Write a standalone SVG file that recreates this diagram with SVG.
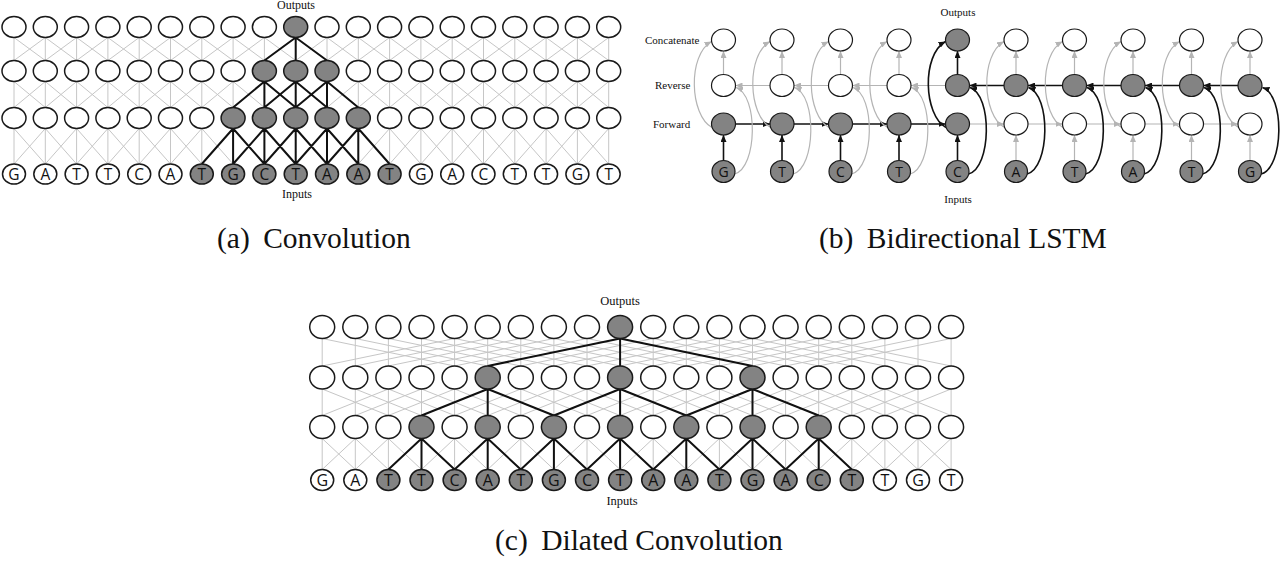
<svg xmlns="http://www.w3.org/2000/svg" width="1280" height="564" viewBox="0 0 1280 564">
<style>
.w{fill:#fff;stroke:#1a1a1a;stroke-width:1.5}
.s{fill:#838383;stroke:#1a1a1a;stroke-width:1.5}
#pb .w,#pb .s{stroke-width:1.2}
.l{font-family:"Open Sans","DejaVu Sans",sans-serif;font-size:15.5px;text-anchor:middle;fill:#111}
#pb .l{font-size:14px}
#pc .l{font-size:16px}
.t{font-family:"Liberation Serif","Times New Roman",serif;fill:#111}
.sm{font-size:12px}
.sb{font-size:11px}
.c{text-anchor:middle}
.cap{font-size:29.5px}
.g{fill:none;stroke:#c6c6c6;stroke-width:1;stroke-linejoin:round}
.k{fill:none;stroke:#111;stroke-width:2;stroke-linejoin:round}
.ag{fill:none;stroke:#b4b4b4;stroke-width:1.2;marker-end:url(#mg)}
.ak{fill:none;stroke:#111;stroke-width:1.6;marker-end:url(#mk)}
</style>
<defs>
<marker id="mk" viewBox="0 0 7 6" refX="7" refY="3" markerWidth="7" markerHeight="6" markerUnits="userSpaceOnUse" orient="auto"><path d="M0,0L7,3L0,6z" fill="#111"/></marker>
<marker id="mg" viewBox="0 0 7 6" refX="7" refY="3" markerWidth="7" markerHeight="6" markerUnits="userSpaceOnUse" orient="auto"><path d="M0,0L7,3L0,6z" fill="#b4b4b4"/></marker>
</defs>
<rect width="1280" height="564" fill="#fff"/>

<g id="connectors">
<path class="g" d="M14,37.5L45.3,60.5L76.6,37.5L107.9,60.5L139.2,37.5L170.5,60.5L201.8,37.5L233.1,60.5L264.4,37.5L295.7,60.5L327,37.5L358.3,60.5L389.6,37.5L420.9,60.5L452.2,37.5L483.5,60.5L514.8,37.5L546.1,60.5L577.4,37.5L608.7,60.5M14,60.5L45.3,37.5L76.6,60.5L107.9,37.5L139.2,60.5L170.5,37.5L201.8,60.5L233.1,37.5L264.4,60.5L295.7,37.5L327,60.5L358.3,37.5L389.6,60.5L420.9,37.5L452.2,60.5L483.5,37.5L514.8,60.5L546.1,37.5L577.4,60.5L608.7,37.5M14,37.5V60.5M45.3,37.5V60.5M76.6,37.5V60.5M107.9,37.5V60.5M139.2,37.5V60.5M170.5,37.5V60.5M201.8,37.5V60.5M233.1,37.5V60.5M264.4,37.5V60.5M295.7,37.5V60.5M327,37.5V60.5M358.3,37.5V60.5M389.6,37.5V60.5M420.9,37.5V60.5M452.2,37.5V60.5M483.5,37.5V60.5M514.8,37.5V60.5M546.1,37.5V60.5M577.4,37.5V60.5M608.7,37.5V60.5"/>
<path class="g" d="M14,81.5L45.3,107.5L76.6,81.5L107.9,107.5L139.2,81.5L170.5,107.5L201.8,81.5L233.1,107.5L264.4,81.5L295.7,107.5L327,81.5L358.3,107.5L389.6,81.5L420.9,107.5L452.2,81.5L483.5,107.5L514.8,81.5L546.1,107.5L577.4,81.5L608.7,107.5M14,107.5L45.3,81.5L76.6,107.5L107.9,81.5L139.2,107.5L170.5,81.5L201.8,107.5L233.1,81.5L264.4,107.5L295.7,81.5L327,107.5L358.3,81.5L389.6,107.5L420.9,81.5L452.2,107.5L483.5,81.5L514.8,107.5L546.1,81.5L577.4,107.5L608.7,81.5M14,81.5V107.5M45.3,81.5V107.5M76.6,81.5V107.5M107.9,81.5V107.5M139.2,81.5V107.5M170.5,81.5V107.5M201.8,81.5V107.5M233.1,81.5V107.5M264.4,81.5V107.5M295.7,81.5V107.5M327,81.5V107.5M358.3,81.5V107.5M389.6,81.5V107.5M420.9,81.5V107.5M452.2,81.5V107.5M483.5,81.5V107.5M514.8,81.5V107.5M546.1,81.5V107.5M577.4,81.5V107.5M608.7,81.5V107.5"/>
<path class="g" d="M14,128.5L45.3,164L76.6,128.5L107.9,164L139.2,128.5L170.5,164L201.8,128.5L233.1,164L264.4,128.5L295.7,164L327,128.5L358.3,164L389.6,128.5L420.9,164L452.2,128.5L483.5,164L514.8,128.5L546.1,164L577.4,128.5L608.7,164M14,164L45.3,128.5L76.6,164L107.9,128.5L139.2,164L170.5,128.5L201.8,164L233.1,128.5L264.4,164L295.7,128.5L327,164L358.3,128.5L389.6,164L420.9,128.5L452.2,164L483.5,128.5L514.8,164L546.1,128.5L577.4,164L608.7,128.5M14,128.5V164M45.3,128.5V164M76.6,128.5V164M107.9,128.5V164M139.2,128.5V164M170.5,128.5V164M201.8,128.5V164M233.1,128.5V164M264.4,128.5V164M295.7,128.5V164M327,128.5V164M358.3,128.5V164M389.6,128.5V164M420.9,128.5V164M452.2,128.5V164M483.5,128.5V164M514.8,128.5V164M546.1,128.5V164M577.4,128.5V164M608.7,128.5V164"/>
<path class="k" d="M264.4,60.5L295.7,37.5L327,60.5M295.7,37.5V60.5"/>
<path class="k" d="M233.1,107.5L264.4,81.5L295.7,107.5M264.4,81.5V107.5M264.4,107.5L295.7,81.5L327,107.5M295.7,81.5V107.5M295.7,107.5L327,81.5L358.3,107.5M327,81.5V107.5"/>
<path class="k" d="M201.8,164L233.1,128.5L264.4,164M233.1,128.5V164M233.1,164L264.4,128.5L295.7,164M264.4,128.5V164M264.4,164L295.7,128.5L327,164M295.7,128.5V164M295.7,164L327,128.5L358.3,164M327,128.5V164M327,164L358.3,128.5L389.6,164M358.3,128.5V164"/>

<path class="g" d="M322.2,338.5L454.6,366L587,338.5L719.4,366L851.8,338.5M322.2,366L454.6,338.5L587,366L719.4,338.5L851.8,366M355.3,338.5L487.7,366L620.1,338.5L752.5,366L884.9,338.5M355.3,366L487.7,338.5L620.1,366L752.5,338.5L884.9,366M388.4,338.5L520.8,366L653.2,338.5L785.6,366L918,338.5M388.4,366L520.8,338.5L653.2,366L785.6,338.5L918,366M421.5,338.5L553.9,366L686.3,338.5L818.7,366L951.1,338.5M421.5,366L553.9,338.5L686.3,366L818.7,338.5L951.1,366M322.2,338.5V366M355.3,338.5V366M388.4,338.5V366M421.5,338.5V366M454.6,338.5V366M487.7,338.5V366M520.8,338.5V366M553.9,338.5V366M587,338.5V366M620.1,338.5V366M653.2,338.5V366M686.3,338.5V366M719.4,338.5V366M752.5,338.5V366M785.6,338.5V366M818.7,338.5V366M851.8,338.5V366M884.9,338.5V366M918,338.5V366M951.1,338.5V366"/>
<path class="g" d="M322.2,389L388.4,415.5L454.6,389L520.8,415.5L587,389L653.2,415.5L719.4,389L785.6,415.5L851.8,389L918,415.5M322.2,415.5L388.4,389L454.6,415.5L520.8,389L587,415.5L653.2,389L719.4,415.5L785.6,389L851.8,415.5L918,389M355.3,389L421.5,415.5L487.7,389L553.9,415.5L620.1,389L686.3,415.5L752.5,389L818.7,415.5L884.9,389L951.1,415.5M355.3,415.5L421.5,389L487.7,415.5L553.9,389L620.1,415.5L686.3,389L752.5,415.5L818.7,389L884.9,415.5L951.1,389M322.2,389V415.5M355.3,389V415.5M388.4,389V415.5M421.5,389V415.5M454.6,389V415.5M487.7,389V415.5M520.8,389V415.5M553.9,389V415.5M587,389V415.5M620.1,389V415.5M653.2,389V415.5M686.3,389V415.5M719.4,389V415.5M752.5,389V415.5M785.6,389V415.5M818.7,389V415.5M851.8,389V415.5M884.9,389V415.5M918,389V415.5M951.1,389V415.5"/>
<path class="g" d="M322.2,438.5L355.3,469.5L388.4,438.5L421.5,469.5L454.6,438.5L487.7,469.5L520.8,438.5L553.9,469.5L587,438.5L620.1,469.5L653.2,438.5L686.3,469.5L719.4,438.5L752.5,469.5L785.6,438.5L818.7,469.5L851.8,438.5L884.9,469.5L918,438.5L951.1,469.5M322.2,469.5L355.3,438.5L388.4,469.5L421.5,438.5L454.6,469.5L487.7,438.5L520.8,469.5L553.9,438.5L587,469.5L620.1,438.5L653.2,469.5L686.3,438.5L719.4,469.5L752.5,438.5L785.6,469.5L818.7,438.5L851.8,469.5L884.9,438.5L918,469.5L951.1,438.5M322.2,438.5V469.5M355.3,438.5V469.5M388.4,438.5V469.5M421.5,438.5V469.5M454.6,438.5V469.5M487.7,438.5V469.5M520.8,438.5V469.5M553.9,438.5V469.5M587,438.5V469.5M620.1,438.5V469.5M653.2,438.5V469.5M686.3,438.5V469.5M719.4,438.5V469.5M752.5,438.5V469.5M785.6,438.5V469.5M818.7,438.5V469.5M851.8,438.5V469.5M884.9,438.5V469.5M918,438.5V469.5M951.1,438.5V469.5"/>
<path class="k" d="M487.7,366L620.1,338.5L752.5,366M620.1,338.5V366"/>
<path class="k" d="M421.5,415.5L487.7,389L553.9,415.5M487.7,389V415.5M553.9,415.5L620.1,389L686.3,415.5M620.1,389V415.5M686.3,415.5L752.5,389L818.7,415.5M752.5,389V415.5"/>
<path class="k" d="M388.4,469.5L421.5,438.5L454.6,469.5L487.7,438.5L520.8,469.5L553.9,438.5L587,469.5L620.1,438.5L653.2,469.5L686.3,438.5L719.4,469.5L752.5,438.5L785.6,469.5L818.7,438.5L851.8,469.5M421.5,438.5V469.5M487.7,438.5V469.5M553.9,438.5V469.5M620.1,438.5V469.5M686.3,438.5V469.5M752.5,438.5V469.5M818.7,438.5V469.5"/>

<path class="ak" d="M735.5,124H770"/>
<path class="ak" d="M794,124H828.5"/>
<path class="ak" d="M852.5,124H887"/>
<path class="ak" d="M911,124H945.5"/>
<path class="ag" d="M969.5,124H1004"/>
<path class="ag" d="M1028,124H1062.5"/>
<path class="ag" d="M1086.5,124H1121"/>
<path class="ag" d="M1145,124H1179.5"/>
<path class="ag" d="M1203.5,124H1238"/>
<path class="ak" d="M1238,85.5H1203.5"/>
<path class="ak" d="M1179.5,85.5H1145"/>
<path class="ak" d="M1121,85.5H1086.5"/>
<path class="ak" d="M1062.5,85.5H1028"/>
<path class="ak" d="M1004,85.5H969.5"/>
<path class="ag" d="M945.5,85.5H911"/>
<path class="ag" d="M887,85.5H852.5"/>
<path class="ag" d="M828.5,85.5H794"/>
<path class="ag" d="M770,85.5H735.5"/>
<path class="ak" d="M723.5,160.5V135"/>
<path class="ak" d="M782,160.5V135"/>
<path class="ak" d="M840.5,160.5V135"/>
<path class="ak" d="M899,160.5V135"/>
<path class="ak" d="M957.5,160.5V135"/>
<path class="ag" d="M1016,160.5V135"/>
<path class="ag" d="M1074.5,160.5V135"/>
<path class="ag" d="M1133,160.5V135"/>
<path class="ag" d="M1191.5,160.5V135"/>
<path class="ag" d="M1250,160.5V135"/>
<path class="ag" d="M723.5,74.5V51"/>
<path class="ag" d="M782,74.5V51"/>
<path class="ag" d="M840.5,74.5V51"/>
<path class="ag" d="M899,74.5V51"/>
<path class="ak" d="M957.5,74.5V51"/>
<path class="ag" d="M1016,74.5V51"/>
<path class="ag" d="M1074.5,74.5V51"/>
<path class="ag" d="M1133,74.5V51"/>
<path class="ag" d="M1191.5,74.5V51"/>
<path class="ag" d="M1250,74.5V51"/>
<path class="ag" d="M712,127.5C689.5,115 687.5,55 711.5,41.5"/>
<path class="ag" d="M770.5,127.5C748,115 746,55 770,41.5"/>
<path class="ag" d="M829,127.5C806.5,115 804.5,55 828.5,41.5"/>
<path class="ag" d="M887.5,127.5C865,115 863,55 887,41.5"/>
<path class="ak" d="M946,127.5C923.5,115 921.5,55 945.5,41.5"/>
<path class="ag" d="M1004.5,127.5C982,115 980,55 1004,41.5"/>
<path class="ag" d="M1063,127.5C1040.5,115 1038.5,55 1062.5,41.5"/>
<path class="ag" d="M1121.5,127.5C1099,115 1097,55 1121,41.5"/>
<path class="ag" d="M1180,127.5C1157.5,115 1155.5,55 1179.5,41.5"/>
<path class="ag" d="M1238.5,127.5C1216,115 1214,55 1238,41.5"/>
<path class="ag" d="M734.5,174C757.5,168 758.5,95 736,87.5"/>
<path class="ag" d="M793,174C816,168 817,95 794.5,87.5"/>
<path class="ag" d="M851.5,174C874.5,168 875.5,95 853,87.5"/>
<path class="ag" d="M910,174C933,168 934,95 911.5,87.5"/>
<path class="ak" d="M968.5,174C991.5,168 992.5,95 970,87.5"/>
<path class="ak" d="M1027,174C1050,168 1051,95 1028.5,87.5"/>
<path class="ak" d="M1085.5,174C1108.5,168 1109.5,95 1087,87.5"/>
<path class="ak" d="M1144,174C1167,168 1168,95 1145.5,87.5"/>
<path class="ak" d="M1202.5,174C1225.5,168 1226.5,95 1204,87.5"/>
<path class="ak" d="M1261,174C1284,168 1285,95 1262.5,87.5"/>
</g>

<g id="pa">
<g id="a-o0"><ellipse class="w" cx="14" cy="27" rx="12" ry="10.5"/></g>
<g id="a-o1"><ellipse class="w" cx="45.3" cy="27" rx="12" ry="10.5"/></g>
<g id="a-o2"><ellipse class="w" cx="76.6" cy="27" rx="12" ry="10.5"/></g>
<g id="a-o3"><ellipse class="w" cx="107.9" cy="27" rx="12" ry="10.5"/></g>
<g id="a-o4"><ellipse class="w" cx="139.2" cy="27" rx="12" ry="10.5"/></g>
<g id="a-o5"><ellipse class="w" cx="170.5" cy="27" rx="12" ry="10.5"/></g>
<g id="a-o6"><ellipse class="w" cx="201.8" cy="27" rx="12" ry="10.5"/></g>
<g id="a-o7"><ellipse class="w" cx="233.1" cy="27" rx="12" ry="10.5"/></g>
<g id="a-o8"><ellipse class="w" cx="264.4" cy="27" rx="12" ry="10.5"/></g>
<g id="a-o9"><ellipse class="s" cx="295.7" cy="27" rx="12" ry="10.5"/></g>
<g id="a-o10"><ellipse class="w" cx="327" cy="27" rx="12" ry="10.5"/></g>
<g id="a-o11"><ellipse class="w" cx="358.3" cy="27" rx="12" ry="10.5"/></g>
<g id="a-o12"><ellipse class="w" cx="389.6" cy="27" rx="12" ry="10.5"/></g>
<g id="a-o13"><ellipse class="w" cx="420.9" cy="27" rx="12" ry="10.5"/></g>
<g id="a-o14"><ellipse class="w" cx="452.2" cy="27" rx="12" ry="10.5"/></g>
<g id="a-o15"><ellipse class="w" cx="483.5" cy="27" rx="12" ry="10.5"/></g>
<g id="a-o16"><ellipse class="w" cx="514.8" cy="27" rx="12" ry="10.5"/></g>
<g id="a-o17"><ellipse class="w" cx="546.1" cy="27" rx="12" ry="10.5"/></g>
<g id="a-o18"><ellipse class="w" cx="577.4" cy="27" rx="12" ry="10.5"/></g>
<g id="a-o19"><ellipse class="w" cx="608.7" cy="27" rx="12" ry="10.5"/></g>

<g id="a-h1-0"><ellipse class="w" cx="14" cy="71" rx="12" ry="10.5"/></g>
<g id="a-h1-1"><ellipse class="w" cx="45.3" cy="71" rx="12" ry="10.5"/></g>
<g id="a-h1-2"><ellipse class="w" cx="76.6" cy="71" rx="12" ry="10.5"/></g>
<g id="a-h1-3"><ellipse class="w" cx="107.9" cy="71" rx="12" ry="10.5"/></g>
<g id="a-h1-4"><ellipse class="w" cx="139.2" cy="71" rx="12" ry="10.5"/></g>
<g id="a-h1-5"><ellipse class="w" cx="170.5" cy="71" rx="12" ry="10.5"/></g>
<g id="a-h1-6"><ellipse class="w" cx="201.8" cy="71" rx="12" ry="10.5"/></g>
<g id="a-h1-7"><ellipse class="w" cx="233.1" cy="71" rx="12" ry="10.5"/></g>
<g id="a-h1-8"><ellipse class="s" cx="264.4" cy="71" rx="12" ry="10.5"/></g>
<g id="a-h1-9"><ellipse class="s" cx="295.7" cy="71" rx="12" ry="10.5"/></g>
<g id="a-h1-10"><ellipse class="s" cx="327" cy="71" rx="12" ry="10.5"/></g>
<g id="a-h1-11"><ellipse class="w" cx="358.3" cy="71" rx="12" ry="10.5"/></g>
<g id="a-h1-12"><ellipse class="w" cx="389.6" cy="71" rx="12" ry="10.5"/></g>
<g id="a-h1-13"><ellipse class="w" cx="420.9" cy="71" rx="12" ry="10.5"/></g>
<g id="a-h1-14"><ellipse class="w" cx="452.2" cy="71" rx="12" ry="10.5"/></g>
<g id="a-h1-15"><ellipse class="w" cx="483.5" cy="71" rx="12" ry="10.5"/></g>
<g id="a-h1-16"><ellipse class="w" cx="514.8" cy="71" rx="12" ry="10.5"/></g>
<g id="a-h1-17"><ellipse class="w" cx="546.1" cy="71" rx="12" ry="10.5"/></g>
<g id="a-h1-18"><ellipse class="w" cx="577.4" cy="71" rx="12" ry="10.5"/></g>
<g id="a-h1-19"><ellipse class="w" cx="608.7" cy="71" rx="12" ry="10.5"/></g>

<g id="a-h2-0"><ellipse class="w" cx="14" cy="118" rx="12" ry="10.5"/></g>
<g id="a-h2-1"><ellipse class="w" cx="45.3" cy="118" rx="12" ry="10.5"/></g>
<g id="a-h2-2"><ellipse class="w" cx="76.6" cy="118" rx="12" ry="10.5"/></g>
<g id="a-h2-3"><ellipse class="w" cx="107.9" cy="118" rx="12" ry="10.5"/></g>
<g id="a-h2-4"><ellipse class="w" cx="139.2" cy="118" rx="12" ry="10.5"/></g>
<g id="a-h2-5"><ellipse class="w" cx="170.5" cy="118" rx="12" ry="10.5"/></g>
<g id="a-h2-6"><ellipse class="w" cx="201.8" cy="118" rx="12" ry="10.5"/></g>
<g id="a-h2-7"><ellipse class="s" cx="233.1" cy="118" rx="12" ry="10.5"/></g>
<g id="a-h2-8"><ellipse class="s" cx="264.4" cy="118" rx="12" ry="10.5"/></g>
<g id="a-h2-9"><ellipse class="s" cx="295.7" cy="118" rx="12" ry="10.5"/></g>
<g id="a-h2-10"><ellipse class="s" cx="327" cy="118" rx="12" ry="10.5"/></g>
<g id="a-h2-11"><ellipse class="s" cx="358.3" cy="118" rx="12" ry="10.5"/></g>
<g id="a-h2-12"><ellipse class="w" cx="389.6" cy="118" rx="12" ry="10.5"/></g>
<g id="a-h2-13"><ellipse class="w" cx="420.9" cy="118" rx="12" ry="10.5"/></g>
<g id="a-h2-14"><ellipse class="w" cx="452.2" cy="118" rx="12" ry="10.5"/></g>
<g id="a-h2-15"><ellipse class="w" cx="483.5" cy="118" rx="12" ry="10.5"/></g>
<g id="a-h2-16"><ellipse class="w" cx="514.8" cy="118" rx="12" ry="10.5"/></g>
<g id="a-h2-17"><ellipse class="w" cx="546.1" cy="118" rx="12" ry="10.5"/></g>
<g id="a-h2-18"><ellipse class="w" cx="577.4" cy="118" rx="12" ry="10.5"/></g>
<g id="a-h2-19"><ellipse class="w" cx="608.7" cy="118" rx="12" ry="10.5"/></g>

<g id="a-i0"><ellipse class="w" cx="14" cy="174" rx="11.5" ry="10"/><text class="l" x="14" y="179.5">G</text></g>
<g id="a-i1"><ellipse class="w" cx="45.3" cy="174" rx="11.5" ry="10"/><text class="l" x="45.3" y="179.5">A</text></g>
<g id="a-i2"><ellipse class="w" cx="76.6" cy="174" rx="11.5" ry="10"/><text class="l" x="76.6" y="179.5">T</text></g>
<g id="a-i3"><ellipse class="w" cx="107.9" cy="174" rx="11.5" ry="10"/><text class="l" x="107.9" y="179.5">T</text></g>
<g id="a-i4"><ellipse class="w" cx="139.2" cy="174" rx="11.5" ry="10"/><text class="l" x="139.2" y="179.5">C</text></g>
<g id="a-i5"><ellipse class="w" cx="170.5" cy="174" rx="11.5" ry="10"/><text class="l" x="170.5" y="179.5">A</text></g>
<g id="a-i6"><ellipse class="s" cx="201.8" cy="174" rx="11.5" ry="10"/><text class="l" x="201.8" y="179.5">T</text></g>
<g id="a-i7"><ellipse class="s" cx="233.1" cy="174" rx="11.5" ry="10"/><text class="l" x="233.1" y="179.5">G</text></g>
<g id="a-i8"><ellipse class="s" cx="264.4" cy="174" rx="11.5" ry="10"/><text class="l" x="264.4" y="179.5">C</text></g>
<g id="a-i9"><ellipse class="s" cx="295.7" cy="174" rx="11.5" ry="10"/><text class="l" x="295.7" y="179.5">T</text></g>
<g id="a-i10"><ellipse class="s" cx="327" cy="174" rx="11.5" ry="10"/><text class="l" x="327" y="179.5">A</text></g>
<g id="a-i11"><ellipse class="s" cx="358.3" cy="174" rx="11.5" ry="10"/><text class="l" x="358.3" y="179.5">A</text></g>
<g id="a-i12"><ellipse class="s" cx="389.6" cy="174" rx="11.5" ry="10"/><text class="l" x="389.6" y="179.5">T</text></g>
<g id="a-i13"><ellipse class="w" cx="420.9" cy="174" rx="11.5" ry="10"/><text class="l" x="420.9" y="179.5">G</text></g>
<g id="a-i14"><ellipse class="w" cx="452.2" cy="174" rx="11.5" ry="10"/><text class="l" x="452.2" y="179.5">A</text></g>
<g id="a-i15"><ellipse class="w" cx="483.5" cy="174" rx="11.5" ry="10"/><text class="l" x="483.5" y="179.5">C</text></g>
<g id="a-i16"><ellipse class="w" cx="514.8" cy="174" rx="11.5" ry="10"/><text class="l" x="514.8" y="179.5">T</text></g>
<g id="a-i17"><ellipse class="w" cx="546.1" cy="174" rx="11.5" ry="10"/><text class="l" x="546.1" y="179.5">T</text></g>
<g id="a-i18"><ellipse class="w" cx="577.4" cy="174" rx="11.5" ry="10"/><text class="l" x="577.4" y="179.5">G</text></g>
<g id="a-i19"><ellipse class="w" cx="608.7" cy="174" rx="11.5" ry="10"/><text class="l" x="608.7" y="179.5">T</text></g>
<text class="t sm c" x="296" y="9">Outputs</text>
<text class="t sm c" x="297" y="198">Inputs</text>
<text class="t cap" x="217" y="248">(a)<tspan dx="6"> Convolution</tspan></text>
</g>

<g id="pb">
<g id="b-c0"><ellipse class="w" cx="723.5" cy="40" rx="12" ry="11"/></g>
<g id="b-c1"><ellipse class="w" cx="782" cy="40" rx="12" ry="11"/></g>
<g id="b-c2"><ellipse class="w" cx="840.5" cy="40" rx="12" ry="11"/></g>
<g id="b-c3"><ellipse class="w" cx="899" cy="40" rx="12" ry="11"/></g>
<g id="b-c4"><ellipse class="s" cx="957.5" cy="40" rx="12" ry="11"/></g>
<g id="b-c5"><ellipse class="w" cx="1016" cy="40" rx="12" ry="11"/></g>
<g id="b-c6"><ellipse class="w" cx="1074.5" cy="40" rx="12" ry="11"/></g>
<g id="b-c7"><ellipse class="w" cx="1133" cy="40" rx="12" ry="11"/></g>
<g id="b-c8"><ellipse class="w" cx="1191.5" cy="40" rx="12" ry="11"/></g>
<g id="b-c9"><ellipse class="w" cx="1250" cy="40" rx="12" ry="11"/></g>

<g id="b-r0"><ellipse class="w" cx="723.5" cy="85.5" rx="12" ry="11"/></g>
<g id="b-r1"><ellipse class="w" cx="782" cy="85.5" rx="12" ry="11"/></g>
<g id="b-r2"><ellipse class="w" cx="840.5" cy="85.5" rx="12" ry="11"/></g>
<g id="b-r3"><ellipse class="w" cx="899" cy="85.5" rx="12" ry="11"/></g>
<g id="b-r4"><ellipse class="s" cx="957.5" cy="85.5" rx="12" ry="11"/></g>
<g id="b-r5"><ellipse class="s" cx="1016" cy="85.5" rx="12" ry="11"/></g>
<g id="b-r6"><ellipse class="s" cx="1074.5" cy="85.5" rx="12" ry="11"/></g>
<g id="b-r7"><ellipse class="s" cx="1133" cy="85.5" rx="12" ry="11"/></g>
<g id="b-r8"><ellipse class="s" cx="1191.5" cy="85.5" rx="12" ry="11"/></g>
<g id="b-r9"><ellipse class="s" cx="1250" cy="85.5" rx="12" ry="11"/></g>

<g id="b-f0"><ellipse class="s" cx="723.5" cy="124" rx="12" ry="11"/></g>
<g id="b-f1"><ellipse class="s" cx="782" cy="124" rx="12" ry="11"/></g>
<g id="b-f2"><ellipse class="s" cx="840.5" cy="124" rx="12" ry="11"/></g>
<g id="b-f3"><ellipse class="s" cx="899" cy="124" rx="12" ry="11"/></g>
<g id="b-f4"><ellipse class="s" cx="957.5" cy="124" rx="12" ry="11"/></g>
<g id="b-f5"><ellipse class="w" cx="1016" cy="124" rx="12" ry="11"/></g>
<g id="b-f6"><ellipse class="w" cx="1074.5" cy="124" rx="12" ry="11"/></g>
<g id="b-f7"><ellipse class="w" cx="1133" cy="124" rx="12" ry="11"/></g>
<g id="b-f8"><ellipse class="w" cx="1191.5" cy="124" rx="12" ry="11"/></g>
<g id="b-f9"><ellipse class="w" cx="1250" cy="124" rx="12" ry="11"/></g>

<g id="b-i0"><ellipse class="s" cx="723.5" cy="171.5" rx="11.5" ry="11"/><text class="l" x="723.5" y="176.5">G</text></g>
<g id="b-i1"><ellipse class="s" cx="782" cy="171.5" rx="11.5" ry="11"/><text class="l" x="782" y="176.5">T</text></g>
<g id="b-i2"><ellipse class="s" cx="840.5" cy="171.5" rx="11.5" ry="11"/><text class="l" x="840.5" y="176.5">C</text></g>
<g id="b-i3"><ellipse class="s" cx="899" cy="171.5" rx="11.5" ry="11"/><text class="l" x="899" y="176.5">T</text></g>
<g id="b-i4"><ellipse class="s" cx="957.5" cy="171.5" rx="11.5" ry="11"/><text class="l" x="957.5" y="176.5">C</text></g>
<g id="b-i5"><ellipse class="s" cx="1016" cy="171.5" rx="11.5" ry="11"/><text class="l" x="1016" y="176.5">A</text></g>
<g id="b-i6"><ellipse class="s" cx="1074.5" cy="171.5" rx="11.5" ry="11"/><text class="l" x="1074.5" y="176.5">T</text></g>
<g id="b-i7"><ellipse class="s" cx="1133" cy="171.5" rx="11.5" ry="11"/><text class="l" x="1133" y="176.5">A</text></g>
<g id="b-i8"><ellipse class="s" cx="1191.5" cy="171.5" rx="11.5" ry="11"/><text class="l" x="1191.5" y="176.5">T</text></g>
<g id="b-i9"><ellipse class="s" cx="1250" cy="171.5" rx="11.5" ry="11"/><text class="l" x="1250" y="176.5">G</text></g>
<text class="t sb c" x="958" y="16">Outputs</text>
<text class="t sb c" x="958" y="203">Inputs</text>
<text class="t sb" x="645" y="44">Concatenate</text>
<text class="t sb" x="655" y="89">Reverse</text>
<text class="t sb" x="653" y="127.5">Forward</text>
<text class="t cap" x="819" y="248">(b)<tspan dx="6"> Bidirectional LSTM</tspan></text>
</g>

<g id="pc">
<g id="c-o0"><ellipse class="w" cx="322.2" cy="327" rx="12.5" ry="11.5"/></g>
<g id="c-o1"><ellipse class="w" cx="355.3" cy="327" rx="12.5" ry="11.5"/></g>
<g id="c-o2"><ellipse class="w" cx="388.4" cy="327" rx="12.5" ry="11.5"/></g>
<g id="c-o3"><ellipse class="w" cx="421.5" cy="327" rx="12.5" ry="11.5"/></g>
<g id="c-o4"><ellipse class="w" cx="454.6" cy="327" rx="12.5" ry="11.5"/></g>
<g id="c-o5"><ellipse class="w" cx="487.7" cy="327" rx="12.5" ry="11.5"/></g>
<g id="c-o6"><ellipse class="w" cx="520.8" cy="327" rx="12.5" ry="11.5"/></g>
<g id="c-o7"><ellipse class="w" cx="553.9" cy="327" rx="12.5" ry="11.5"/></g>
<g id="c-o8"><ellipse class="w" cx="587" cy="327" rx="12.5" ry="11.5"/></g>
<g id="c-o9"><ellipse class="s" cx="620.1" cy="327" rx="12.5" ry="11.5"/></g>
<g id="c-o10"><ellipse class="w" cx="653.2" cy="327" rx="12.5" ry="11.5"/></g>
<g id="c-o11"><ellipse class="w" cx="686.3" cy="327" rx="12.5" ry="11.5"/></g>
<g id="c-o12"><ellipse class="w" cx="719.4" cy="327" rx="12.5" ry="11.5"/></g>
<g id="c-o13"><ellipse class="w" cx="752.5" cy="327" rx="12.5" ry="11.5"/></g>
<g id="c-o14"><ellipse class="w" cx="785.6" cy="327" rx="12.5" ry="11.5"/></g>
<g id="c-o15"><ellipse class="w" cx="818.7" cy="327" rx="12.5" ry="11.5"/></g>
<g id="c-o16"><ellipse class="w" cx="851.8" cy="327" rx="12.5" ry="11.5"/></g>
<g id="c-o17"><ellipse class="w" cx="884.9" cy="327" rx="12.5" ry="11.5"/></g>
<g id="c-o18"><ellipse class="w" cx="918" cy="327" rx="12.5" ry="11.5"/></g>
<g id="c-o19"><ellipse class="w" cx="951.1" cy="327" rx="12.5" ry="11.5"/></g>

<g id="c-h1-0"><ellipse class="w" cx="322.2" cy="377.5" rx="12.5" ry="11.5"/></g>
<g id="c-h1-1"><ellipse class="w" cx="355.3" cy="377.5" rx="12.5" ry="11.5"/></g>
<g id="c-h1-2"><ellipse class="w" cx="388.4" cy="377.5" rx="12.5" ry="11.5"/></g>
<g id="c-h1-3"><ellipse class="w" cx="421.5" cy="377.5" rx="12.5" ry="11.5"/></g>
<g id="c-h1-4"><ellipse class="w" cx="454.6" cy="377.5" rx="12.5" ry="11.5"/></g>
<g id="c-h1-5"><ellipse class="s" cx="487.7" cy="377.5" rx="12.5" ry="11.5"/></g>
<g id="c-h1-6"><ellipse class="w" cx="520.8" cy="377.5" rx="12.5" ry="11.5"/></g>
<g id="c-h1-7"><ellipse class="w" cx="553.9" cy="377.5" rx="12.5" ry="11.5"/></g>
<g id="c-h1-8"><ellipse class="w" cx="587" cy="377.5" rx="12.5" ry="11.5"/></g>
<g id="c-h1-9"><ellipse class="s" cx="620.1" cy="377.5" rx="12.5" ry="11.5"/></g>
<g id="c-h1-10"><ellipse class="w" cx="653.2" cy="377.5" rx="12.5" ry="11.5"/></g>
<g id="c-h1-11"><ellipse class="w" cx="686.3" cy="377.5" rx="12.5" ry="11.5"/></g>
<g id="c-h1-12"><ellipse class="w" cx="719.4" cy="377.5" rx="12.5" ry="11.5"/></g>
<g id="c-h1-13"><ellipse class="s" cx="752.5" cy="377.5" rx="12.5" ry="11.5"/></g>
<g id="c-h1-14"><ellipse class="w" cx="785.6" cy="377.5" rx="12.5" ry="11.5"/></g>
<g id="c-h1-15"><ellipse class="w" cx="818.7" cy="377.5" rx="12.5" ry="11.5"/></g>
<g id="c-h1-16"><ellipse class="w" cx="851.8" cy="377.5" rx="12.5" ry="11.5"/></g>
<g id="c-h1-17"><ellipse class="w" cx="884.9" cy="377.5" rx="12.5" ry="11.5"/></g>
<g id="c-h1-18"><ellipse class="w" cx="918" cy="377.5" rx="12.5" ry="11.5"/></g>
<g id="c-h1-19"><ellipse class="w" cx="951.1" cy="377.5" rx="12.5" ry="11.5"/></g>

<g id="c-h2-0"><ellipse class="w" cx="322.2" cy="427" rx="12.5" ry="11.5"/></g>
<g id="c-h2-1"><ellipse class="w" cx="355.3" cy="427" rx="12.5" ry="11.5"/></g>
<g id="c-h2-2"><ellipse class="w" cx="388.4" cy="427" rx="12.5" ry="11.5"/></g>
<g id="c-h2-3"><ellipse class="s" cx="421.5" cy="427" rx="12.5" ry="11.5"/></g>
<g id="c-h2-4"><ellipse class="w" cx="454.6" cy="427" rx="12.5" ry="11.5"/></g>
<g id="c-h2-5"><ellipse class="s" cx="487.7" cy="427" rx="12.5" ry="11.5"/></g>
<g id="c-h2-6"><ellipse class="w" cx="520.8" cy="427" rx="12.5" ry="11.5"/></g>
<g id="c-h2-7"><ellipse class="s" cx="553.9" cy="427" rx="12.5" ry="11.5"/></g>
<g id="c-h2-8"><ellipse class="w" cx="587" cy="427" rx="12.5" ry="11.5"/></g>
<g id="c-h2-9"><ellipse class="s" cx="620.1" cy="427" rx="12.5" ry="11.5"/></g>
<g id="c-h2-10"><ellipse class="w" cx="653.2" cy="427" rx="12.5" ry="11.5"/></g>
<g id="c-h2-11"><ellipse class="s" cx="686.3" cy="427" rx="12.5" ry="11.5"/></g>
<g id="c-h2-12"><ellipse class="w" cx="719.4" cy="427" rx="12.5" ry="11.5"/></g>
<g id="c-h2-13"><ellipse class="s" cx="752.5" cy="427" rx="12.5" ry="11.5"/></g>
<g id="c-h2-14"><ellipse class="w" cx="785.6" cy="427" rx="12.5" ry="11.5"/></g>
<g id="c-h2-15"><ellipse class="s" cx="818.7" cy="427" rx="12.5" ry="11.5"/></g>
<g id="c-h2-16"><ellipse class="w" cx="851.8" cy="427" rx="12.5" ry="11.5"/></g>
<g id="c-h2-17"><ellipse class="w" cx="884.9" cy="427" rx="12.5" ry="11.5"/></g>
<g id="c-h2-18"><ellipse class="w" cx="918" cy="427" rx="12.5" ry="11.5"/></g>
<g id="c-h2-19"><ellipse class="w" cx="951.1" cy="427" rx="12.5" ry="11.5"/></g>

<g id="c-i0"><ellipse class="w" cx="322.2" cy="480" rx="11.5" ry="10.5"/><text class="l" x="322.2" y="485.7">G</text></g>
<g id="c-i1"><ellipse class="w" cx="355.3" cy="480" rx="11.5" ry="10.5"/><text class="l" x="355.3" y="485.7">A</text></g>
<g id="c-i2"><ellipse class="s" cx="388.4" cy="480" rx="11.5" ry="10.5"/><text class="l" x="388.4" y="485.7">T</text></g>
<g id="c-i3"><ellipse class="s" cx="421.5" cy="480" rx="11.5" ry="10.5"/><text class="l" x="421.5" y="485.7">T</text></g>
<g id="c-i4"><ellipse class="s" cx="454.6" cy="480" rx="11.5" ry="10.5"/><text class="l" x="454.6" y="485.7">C</text></g>
<g id="c-i5"><ellipse class="s" cx="487.7" cy="480" rx="11.5" ry="10.5"/><text class="l" x="487.7" y="485.7">A</text></g>
<g id="c-i6"><ellipse class="s" cx="520.8" cy="480" rx="11.5" ry="10.5"/><text class="l" x="520.8" y="485.7">T</text></g>
<g id="c-i7"><ellipse class="s" cx="553.9" cy="480" rx="11.5" ry="10.5"/><text class="l" x="553.9" y="485.7">G</text></g>
<g id="c-i8"><ellipse class="s" cx="587" cy="480" rx="11.5" ry="10.5"/><text class="l" x="587" y="485.7">C</text></g>
<g id="c-i9"><ellipse class="s" cx="620.1" cy="480" rx="11.5" ry="10.5"/><text class="l" x="620.1" y="485.7">T</text></g>
<g id="c-i10"><ellipse class="s" cx="653.2" cy="480" rx="11.5" ry="10.5"/><text class="l" x="653.2" y="485.7">A</text></g>
<g id="c-i11"><ellipse class="s" cx="686.3" cy="480" rx="11.5" ry="10.5"/><text class="l" x="686.3" y="485.7">A</text></g>
<g id="c-i12"><ellipse class="s" cx="719.4" cy="480" rx="11.5" ry="10.5"/><text class="l" x="719.4" y="485.7">T</text></g>
<g id="c-i13"><ellipse class="s" cx="752.5" cy="480" rx="11.5" ry="10.5"/><text class="l" x="752.5" y="485.7">G</text></g>
<g id="c-i14"><ellipse class="s" cx="785.6" cy="480" rx="11.5" ry="10.5"/><text class="l" x="785.6" y="485.7">A</text></g>
<g id="c-i15"><ellipse class="s" cx="818.7" cy="480" rx="11.5" ry="10.5"/><text class="l" x="818.7" y="485.7">C</text></g>
<g id="c-i16"><ellipse class="s" cx="851.8" cy="480" rx="11.5" ry="10.5"/><text class="l" x="851.8" y="485.7">T</text></g>
<g id="c-i17"><ellipse class="w" cx="884.9" cy="480" rx="11.5" ry="10.5"/><text class="l" x="884.9" y="485.7">T</text></g>
<g id="c-i18"><ellipse class="w" cx="918" cy="480" rx="11.5" ry="10.5"/><text class="l" x="918" y="485.7">G</text></g>
<g id="c-i19"><ellipse class="w" cx="951.1" cy="480" rx="11.5" ry="10.5"/><text class="l" x="951.1" y="485.7">T</text></g>
<text class="t c" style="font-size:12.5px" x="620" y="305">Outputs</text>
<text class="t c" style="font-size:12.5px" x="622" y="505">Inputs</text>
<text class="t cap" x="495" y="550">(c)<tspan dx="6"> Dilated Convolution</tspan></text>
</g>
</svg>
